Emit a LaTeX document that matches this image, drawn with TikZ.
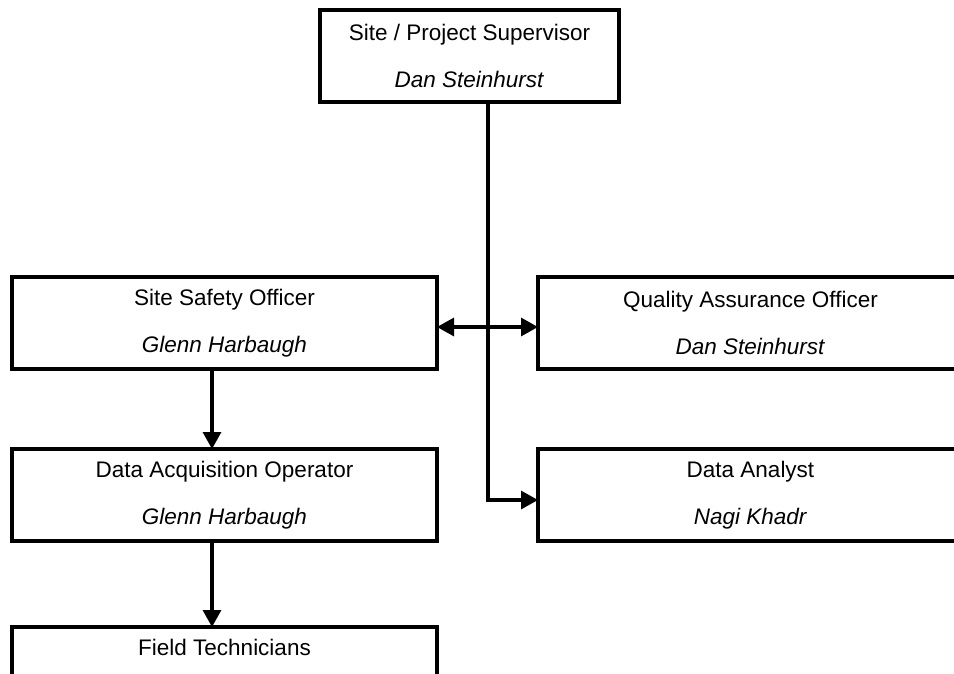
\documentclass[tikz,border=0pt]{standalone}
\usepackage{fontspec}
\setmainfont{Liberation Sans}
\usetikzlibrary{arrows.meta}
\begin{document}
\begin{tikzpicture}[x=1pt,y=-1pt,
  box/.style={draw=black, line width=3.2pt, minimum width=425pt, minimum height=92pt,
    inner sep=0pt, outer sep=0pt, align=center, font=\fontsize{22.5}{47}\selectfont},
  tipshape/.style={},
  conn/.style={line width=3.2pt, -{Triangle[length=17pt,width=18pt]}},
  dconn/.style={line width=3.2pt, {Triangle[length=17pt,width=18pt]}-{Triangle[length=17pt,width=18pt]}},
]
\useasboundingbox (0,0) rectangle (954,673);
\node[box, minimum width=299pt] (sup) at (469.5,56) {Site / Project Supervisor\\\textit{Dan Steinhurst}};
\node[box] (safety) at (224.5,323) {Site Safety Officer\\\textit{Glenn Harbaugh}};
\node[box] (qa) at (750.5,323) {Quality Assurance Officer\\\textit{Dan Steinhurst}};
\node[box] (daq) at (224.5,495) {Data Acquisition Operator\\\textit{Glenn Harbaugh}};
\node[box] (analyst) at (750.5,495) {Data Analyst\\\textit{Nagi Khadr}};
\node[box] (field) at (224.5,673) {Field Technicians\\\phantom{Xg}};
\coordinate (turn) at (488,500);
\coordinate (ha) at (0,327);
\coordinate (va) at (212,0);
\draw[conn] (sup.south -| turn) -- (turn) -- (analyst.west |- turn);
\draw[dconn] (safety.east |- ha) -- (qa.west |- ha);
\draw[conn] (safety.south -| va) -- (daq.north -| va);
\draw[conn] (daq.south -| va) -- (field.north -| va);
\end{tikzpicture}
\end{document}
